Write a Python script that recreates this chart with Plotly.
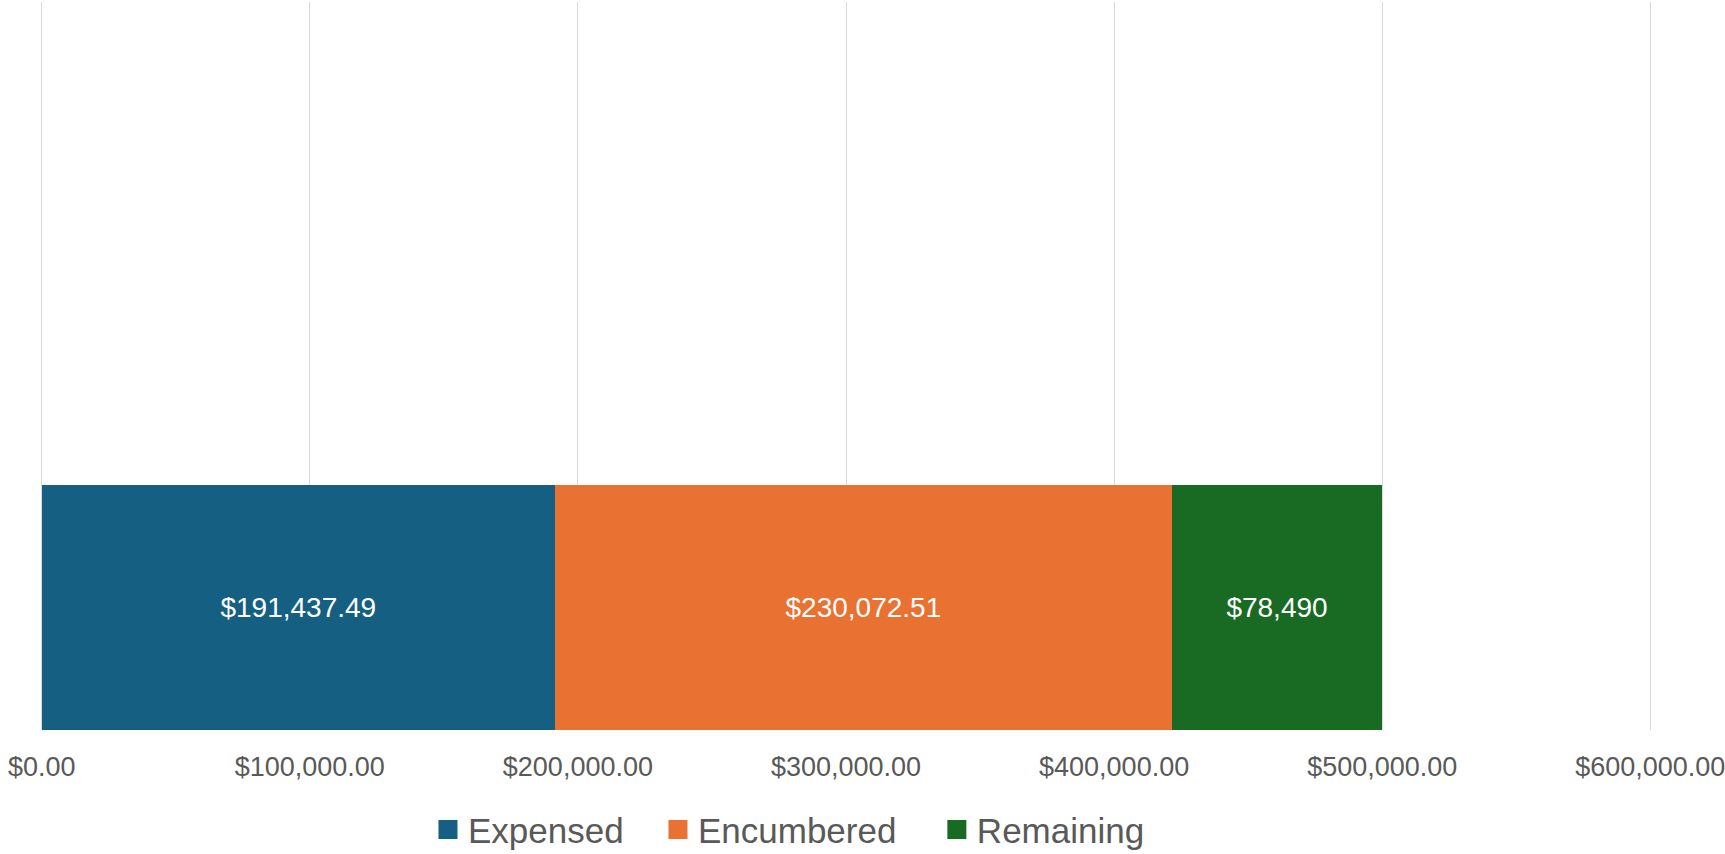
import plotly.graph_objects as go

categories = ["Budget"]
series_names = ["Expensed", "Encumbered", "Remaining"]
series_values = [[191437.49], [230072.51], [78490.00]]
series_colors = ["#156082", "#E97132", "#196B24"]
tick_values = [0, 100000, 200000, 300000, 400000, 500000, 600000]


def fmt_label(v):
    if float(v).is_integer():
        return "${:,.0f}".format(v)
    return "${:,.2f}".format(v)


legend_ids = ["legend", "legend2", "legend3"]
legend_x = [0.2410, 0.3835, 0.5563]

fig = go.Figure()
for name, vals, col, lid in zip(series_names, series_values, series_colors, legend_ids):
    fig.add_trace(go.Bar(
        y=[0] * len(vals), x=vals, orientation="h", width=1,
        name=name, marker=dict(color=col, line=dict(width=0)),
        text=[fmt_label(v) for v in vals], textposition="inside",
        insidetextanchor="middle",
        textfont=dict(color="#FFFFFF", size=28, family="Liberation Sans"),
        showlegend=False, hoverinfo="skip",
    ))
    fig.add_trace(go.Scatter(
        x=[None], y=[None], mode="markers", name=name, legend=lid,
        marker=dict(symbol="square", size=16, color=col,
                    line=dict(color=col, width=3)),
    ))

legend_common = dict(
    orientation="h", xanchor="left", y=-0.137, yanchor="middle",
    font=dict(size=35, color="#595959"), itemwidth=30,
    bgcolor="rgba(0,0,0,0)", borderwidth=0,
)

fig.update_layout(
    width=1725, height=854,
    margin=dict(l=39, r=72, t=2, b=124, autoexpand=False),
    barmode="stack",
    plot_bgcolor="white", paper_bgcolor="white",
    font=dict(family="Liberation Sans", color="#595959"),
    xaxis=dict(
        range=[-1000, 601000], tickvals=tick_values, tickformat="$,.2f",
        showgrid=True, gridcolor="#D9D9D9", gridwidth=1.3,
        zeroline=False, showline=False, automargin=False,
        tickfont=dict(size=27, color="#595959"),
        ticklabelstandoff=18, ticklabeloverflow="allow",
    ),
    yaxis=dict(
        range=[-0.5, 2.471], showticklabels=False, showgrid=False,
        zeroline=False, showline=False, automargin=False,
    ),
    legend=dict(x=legend_x[0], **legend_common),
    legend2=dict(x=legend_x[1], **legend_common),
    legend3=dict(x=legend_x[2], **legend_common),
)

fig.write_html(
    "out.html",
    config={"displayModeBar": False},
    post_script="document.body.style.margin='0';document.body.style.overflow='hidden';",
)
